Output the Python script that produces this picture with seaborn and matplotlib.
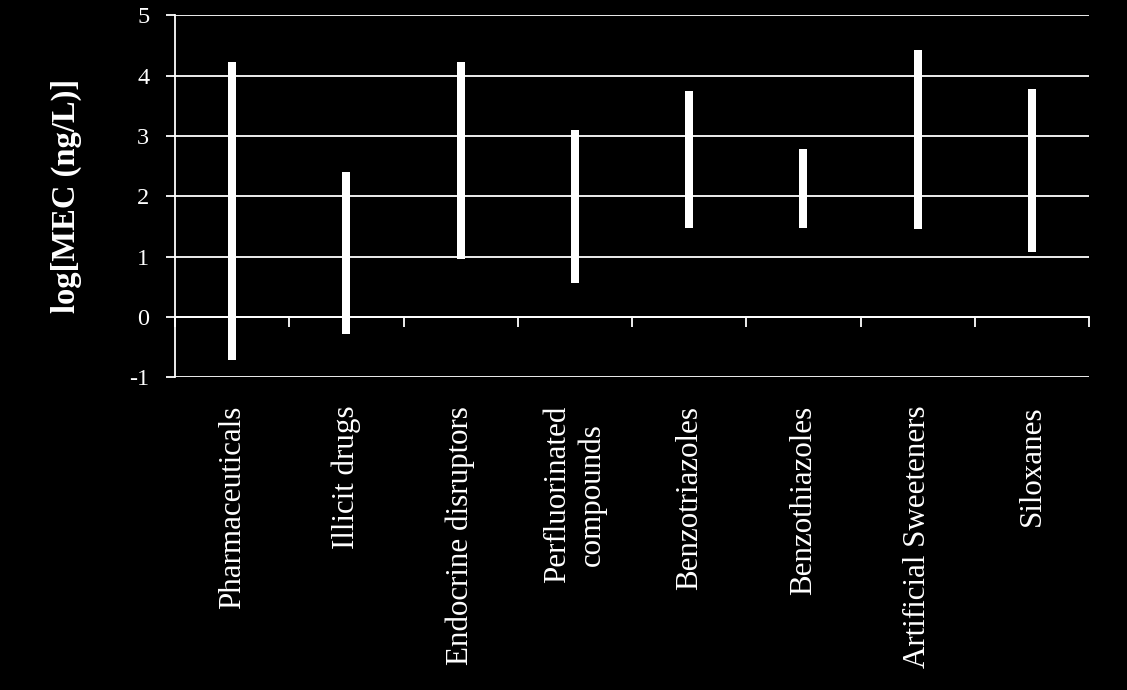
import matplotlib
matplotlib.use("Agg")
import matplotlib.pyplot as plt
import seaborn as sns
import pandas as pd
import numpy as np

categories = ["Pharmaceuticals", "Illicit drugs", "Endocrine disruptors",
              "Perfluorinated\ncompounds", "Benzotriazoles", "Benzothiazoles",
              "Artificial Sweeteners", "Siloxanes"]
mec_min = [-0.71, -0.28, 0.96, 0.57, 1.47, 1.48, 1.45, 1.08]
mec_max = [4.23, 2.40, 4.23, 3.10, 3.75, 2.79, 4.43, 3.78]
y_ticks = [-1, 0, 1, 2, 3, 4, 5]
y_label = "log[MEC (ng/L)]"

df = pd.DataFrame({"category": categories,
                   "low": mec_min,
                   "span": np.array(mec_max) - np.array(mec_min)})

sns.set_style("dark")
plt.rcParams["font.family"] = ["Liberation Serif", "DejaVu Serif"]

fig = plt.figure(figsize=(11.27, 6.9), dpi=100, facecolor="black")
ax = fig.add_axes([0.1553, 0.4532, 0.9663 - 0.1553, 0.9778 - 0.4532])
ax.set_facecolor("black")

sns.barplot(data=df, x="category", y="span", bottom=df["low"].values,
            color="white", width=0.07, errorbar=None, saturation=1,
            edgecolor="none", ax=ax, zorder=3)

ax.set_ylim(-1, 5)
ax.set_xlim(-0.5, len(categories) - 0.5)
ax.set_yticks(y_ticks)
ax.set_yticklabels([str(v) for v in y_ticks], color="white", fontsize=17.5)
ax.yaxis.grid(True, color="white", linewidth=1.3, zorder=0)
ax.xaxis.grid(False)
ax.set_axisbelow(True)

for s in ["top", "right"]:
    ax.spines[s].set_visible(False)
ax.spines["left"].set_color("white")
ax.spines["left"].set_linewidth(1.3)
ax.spines["bottom"].set_color("white")
ax.spines["bottom"].set_linewidth(1.3)
ax.spines["bottom"].set_position(("data", 0))

ax.tick_params(axis="y", direction="out", length=6.5, width=1.3,
               color="white", pad=12, left=True)
ax.set_xticks(range(len(categories)))
ax.set_xticklabels(categories, rotation=90, color="white", fontsize=22.3)
for t in ax.get_xticklabels():
    t.set_multialignment("center")
ax.tick_params(axis="x", which="major", length=0, pad=64, bottom=True)
ax.set_xticks(np.arange(-0.5, len(categories)), minor=True)
ax.tick_params(axis="x", which="minor", direction="out", length=7,
               width=1.3, color="white", bottom=True)

ax.set_xlabel("")
ax.set_ylabel(y_label, color="white", fontsize=23.5, fontweight="bold",
              labelpad=34)

fig.savefig("out.png", dpi=100, facecolor="black")
